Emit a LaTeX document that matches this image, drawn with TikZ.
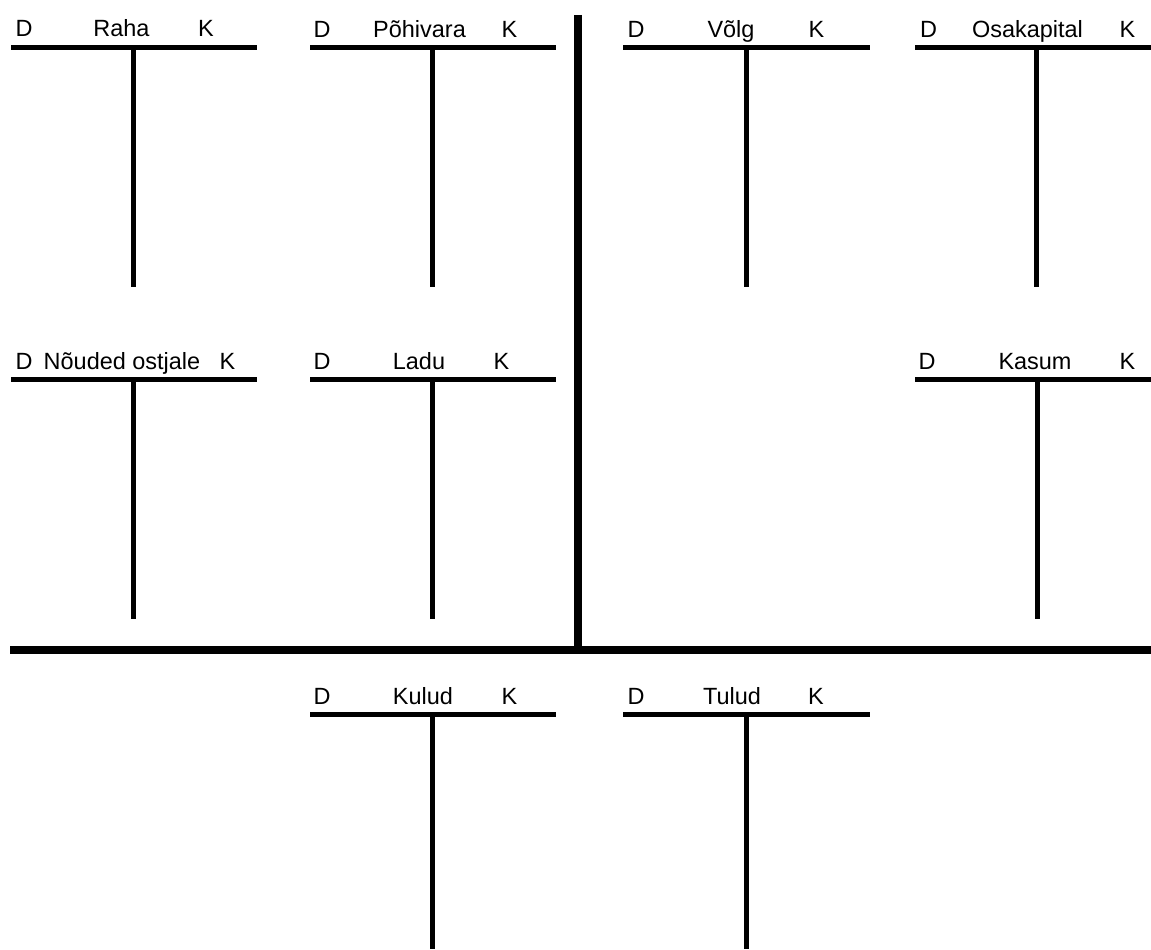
\documentclass[tikz,border=0pt]{standalone}
\usepackage{fontspec}
\setmainfont{Liberation Sans}
\begin{document}
\begin{tikzpicture}[x=0.75pt,y=-0.75pt,
  tline/.style={black,line width=3.75pt},
  sepline/.style={black,line width=6pt},
  lbl/.style={anchor=base,inner sep=0pt,font=\fontsize{17.6}{20}\selectfont}]
\useasboundingbox (0,0) rectangle (1151,949);
% T-kontod: nimi/algus/lopp/y/vertikaal/pohi/D/pealkiri/K/tekst
\foreach \n/\xa/\xb/\y/\xv/\yb/\xd/\xt/\xk/\title in {
  raha/11/257/47.5/133.5/287/24/121.5/206/Raha,
  pohivara/310/556/48/432.5/287/322/419.5/509.5/Põhivara,
  volg/623/870/48/746.5/287/636/731/816.5/Võlg,
  osakapital/915/1151/48/1036.5/287/928.5/1027.5/1127.5/Osakapital,
  nouded/11/257/379.5/133.5/619/24/122/227.5/Nõuded ostjale,
  ladu/310/556/379.5/432.5/619/322/419/501.5/Ladu,
  kasum/915/1151/379.5/1037.5/619/927/1035/1127.5/Kasum,
  kulud/310/556/714.5/432.5/949/322/423/509.5/Kulud,
  tulud/623/870/714.5/746.5/949/636/732/816/Tulud}{
  \coordinate (\n-l) at (\xa,\y);
  \coordinate (\n-r) at (\xb,\y);
  \coordinate (\n-top) at (\xv,\y);
  \coordinate (\n-bot) at (\xv,\yb);
  \draw[tline] (\n-l) -- (\n-r);
  \draw[tline] (\n-top) -- (\n-bot);
  \node[lbl] (\n-d) at (\xd,\y-10.5) {D};
  \node[lbl] (\n-name) at (\xt,\y-10.5) {\title};
  \node[lbl] (\n-k) at (\xk,\y-10.5) {K};
}
% eraldusjooned
\coordinate (sep-top) at (578,15);
\coordinate (sep-mid) at (578,650);
\coordinate (sep-l) at (10,650);
\coordinate (sep-r) at (1151,650);
\draw[sepline] (sep-top) -- (sep-mid);
\draw[sepline] (sep-l) -- (sep-r);
\end{tikzpicture}
\end{document}
